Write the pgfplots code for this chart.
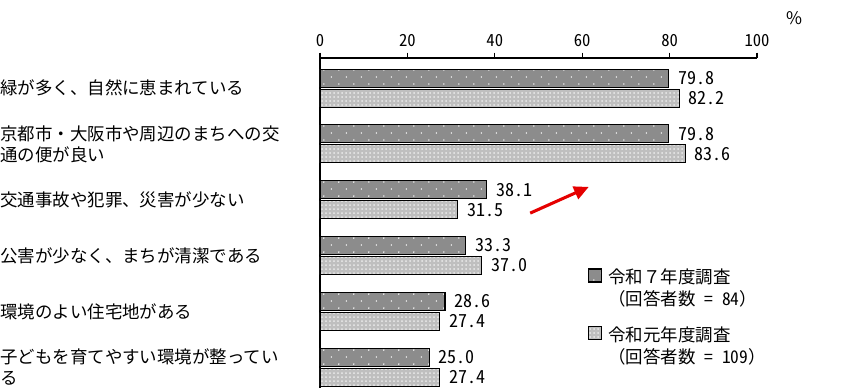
\documentclass[border=0pt]{standalone}
\usepackage{fontspec}
\setmainfont{Noto Sans CJK JP}
\newfontfamily\numfont[RawFeature=+hwid]{Noto Sans CJK JP}
\usepackage{pgfplots}
\pgfplotsset{compat=1.18}
\usetikzlibrary{patterns,arrows.meta}

\pgfdeclarepatternformonly{sparsedots}{\pgfqpoint{-1pt}{-1pt}}{\pgfqpoint{12pt}{11pt}}{\pgfqpoint{11.25pt}{10.5pt}}{%
  \pgfpathcircle{\pgfqpoint{1pt}{1.5pt}}{0.6pt}%
  \pgfpathcircle{\pgfqpoint{6.6pt}{6.75pt}}{0.6pt}%
  \pgfusepath{fill}}
\pgfdeclarepatternformonly{finedots}{\pgfqpoint{-1pt}{-1pt}}{\pgfqpoint{4pt}{4pt}}{\pgfqpoint{3pt}{3pt}}{%
  \pgfpathcircle{\pgfqpoint{1.5pt}{1.5pt}}{0.75pt}%
  \pgfusepath{fill}}

\pgfplotsset{
  darkbar/.style={draw=black, line width=0.8pt, fill=black!45, postaction={pattern=sparsedots, pattern color=white}},
  lightbar/.style={draw=black, line width=0.8pt, fill=black!25, postaction={pattern=finedots, pattern color=white!92!black}},
}

\begin{document}
\begin{tikzpicture}
\useasboundingbox (0pt,0pt) rectangle (643.5pt,-290.25pt);
\clip (0pt,0pt) rectangle (643.5pt,-290.25pt);
\begin{axis}[
  at={(240pt,-43.5pt)}, anchor=north west,
  scale only axis, width=327.75pt, height=256.95pt,
  xbar, bar width=13.5pt,
  xmin=0, xmax=100, ymin=0.46, ymax=6.6, y dir=reverse,
  axis x line*=top, axis y line*=left,
  axis line style={line width=1.3pt, -},
  xtick={0,20,...,100}, tick align=outside,
  xtick style={line width=1pt, black},
  major tick length=4pt,
  ytick={1,...,6}, ytick style={draw=none},
  yticklabels={緑が多く、自然に恵まれている, {京都市・大阪市や周辺のまちへの交\\通の便が良い}, 交通事故や犯罪、災害が少ない, 公害が少なく、まちが清潔である, 環境のよい住宅地がある, {子どもを育てやすい環境が整ってい\\る}},
  yticklabel style={anchor=west, align=left, inner xsep=0pt, xshift=-236pt, font=\fontsize{13.1}{15.8}\selectfont},
  xticklabel style={font=\numfont\fontsize{12.5}{13}\selectfont, yshift=1pt},
  /pgf/number format/assume math mode=true,
  nodes near coords={\pgfmathprintnumber[fixed,fixed zerofill,precision=1]{\pgfplotspointmeta}},
  nodes near coords style={font=\numfont\fontsize{13.5}{14}\selectfont, anchor=west, xshift=3.5pt},
  legend style={at={(0.603,0.40)}, anchor=north west, draw=none, fill=none,
    cells={anchor=west, align=left}, font=\fontsize{13.1}{16.5}\selectfont, row sep=10pt,
    column sep=3pt},
  legend image code/.code={\draw[#1] (0pt,4.9pt) rectangle (9.75pt,14.65pt);},
]
\addplot[darkbar, bar shift=7.5pt] coordinates {(79.8,1) (79.8,2) (38.1,3) (33.3,4) (28.6,5) (25.0,6)};
\addplot[lightbar, bar shift=-7.5pt] coordinates {(82.2,1) (83.6,2) (31.5,3) (37.0,4) (27.4,5) (27.4,6)};
\legend{{令和７年度調査\\（回答者数{\numfont\ =\ 84}）}, {令和元年度調査\\（回答者数{\numfont\ =\ 109}）}}
\draw[red!90!black, line width=2.3pt, -{Triangle[length=11pt,width=10pt]}] (axis cs:48.1,3.24) -- (axis cs:61.5,2.77);
\end{axis}
\node[font=\fontsize{13}{14}\selectfont] at (595.5pt,-13.5pt) {\%};
\end{tikzpicture}
\end{document}
